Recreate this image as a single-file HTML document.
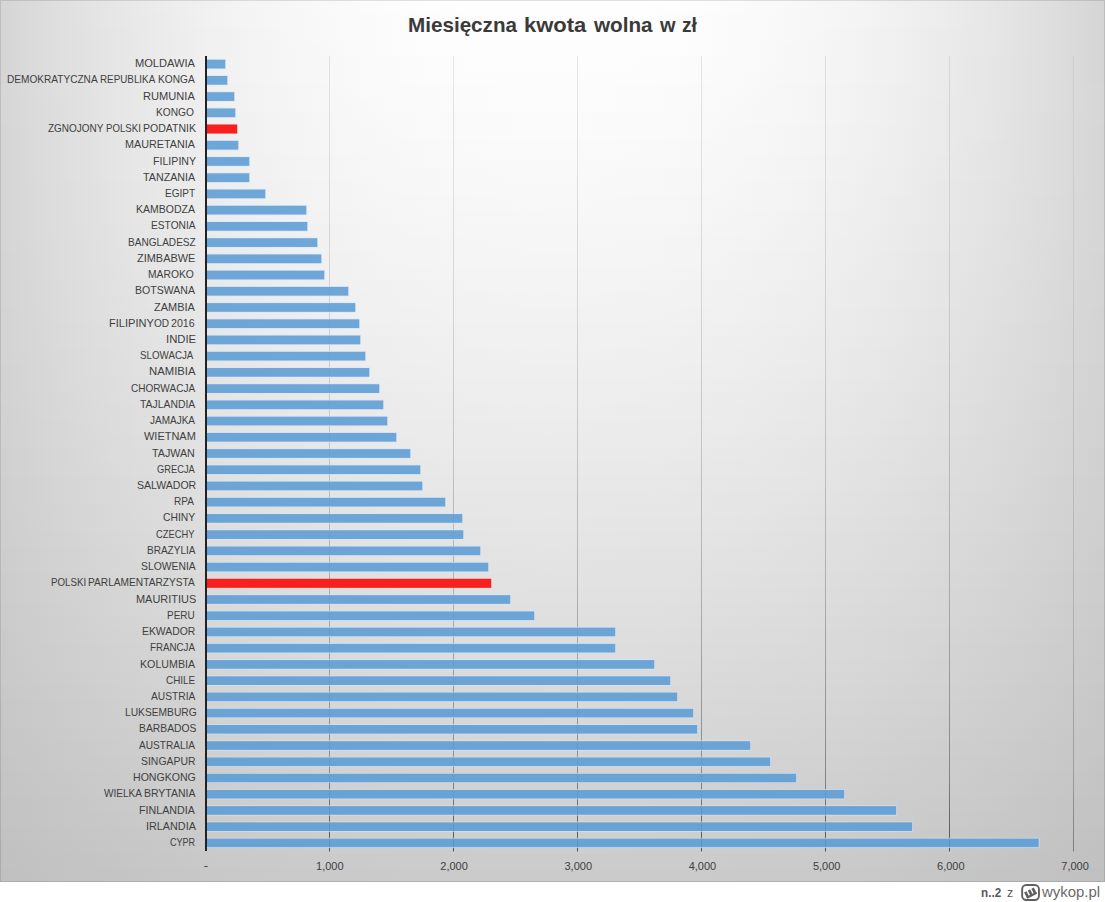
<!DOCTYPE html>
<html><head><meta charset="utf-8"><title>Miesięczna kwota wolna w zł</title>
<style>
html,body{margin:0;padding:0;background:#fff;}
body{width:1105px;height:902px;position:relative;overflow:hidden;font-family:"Liberation Sans",sans-serif;}
#chart{position:absolute;left:0;top:0;width:1105px;height:882px;background:#e0e0e0;}
#chart i{position:absolute;left:0;width:1105px;display:block;}
#frame{position:absolute;left:0;top:0;width:1105px;height:882px;box-sizing:border-box;border:1px solid rgba(0,0,0,0.11);}
svg{position:absolute;left:0;top:0;}
.t{position:absolute;white-space:nowrap;line-height:1;transform-origin:0 0;}
</style></head><body>

<div id="chart"><i style="top:0px;height:14px;background:linear-gradient(90deg,#d5d5d5 0px,#dfdfdf 60px,#e6e6e6 110px,#ececec 160px,#f1f1f1 210px,#f5f5f5 260px,#f8f8f8 310px,#fbfbfb 360px,#fdfdfd 410px,#fefefe 460px,#fefefe 552px,#fefefe 644px,#fdfdfd 694px,#fbfbfb 744px,#f8f8f8 794px,#f5f5f5 844px,#f1f1f1 894px,#ececec 944px,#e6e6e6 994px,#dfdfdf 1044px,#d5d5d5 1105px)"></i><i style="top:14px;height:14px;background:linear-gradient(90deg,#d5d5d5 0px,#dfdfdf 60px,#e6e6e6 110px,#ebebeb 160px,#f1f1f1 210px,#f5f5f5 260px,#f8f8f8 310px,#fafafa 360px,#fcfcfc 410px,#fdfdfd 460px,#fefefe 552px,#fdfdfd 644px,#fcfcfc 694px,#fafafa 744px,#f8f8f8 794px,#f5f5f5 844px,#f1f1f1 894px,#ececec 944px,#e6e6e6 994px,#dfdfdf 1044px,#d5d5d5 1105px)"></i><i style="top:28px;height:14px;background:linear-gradient(90deg,#d5d5d5 0px,#dfdfdf 60px,#e5e5e5 110px,#ebebeb 160px,#f0f0f0 210px,#f4f4f4 260px,#f8f8f8 310px,#fafafa 360px,#fcfcfc 410px,#fdfdfd 460px,#fefefe 552px,#fdfdfd 644px,#fcfcfc 694px,#fafafa 744px,#f8f8f8 794px,#f4f4f4 844px,#f0f0f0 894px,#ebebeb 944px,#e6e6e6 994px,#dfdfdf 1044px,#d5d5d5 1105px)"></i><i style="top:42px;height:14px;background:linear-gradient(90deg,#d5d5d5 0px,#dfdfdf 60px,#e5e5e5 110px,#ebebeb 160px,#f0f0f0 210px,#f4f4f4 260px,#f7f7f7 310px,#fafafa 360px,#fcfcfc 410px,#fdfdfd 460px,#fdfdfd 552px,#fdfdfd 644px,#fcfcfc 694px,#fafafa 744px,#f7f7f7 794px,#f4f4f4 844px,#f0f0f0 894px,#ebebeb 944px,#e6e6e6 994px,#dfdfdf 1044px,#d5d5d5 1105px)"></i><i style="top:56px;height:14px;background:linear-gradient(90deg,#d5d5d5 0px,#dfdfdf 60px,#e5e5e5 110px,#ebebeb 160px,#f0f0f0 210px,#f4f4f4 260px,#f7f7f7 310px,#f9f9f9 360px,#fbfbfb 410px,#fcfcfc 460px,#fdfdfd 552px,#fcfcfc 644px,#fbfbfb 694px,#fafafa 744px,#f7f7f7 794px,#f4f4f4 844px,#f0f0f0 894px,#ebebeb 944px,#e5e5e5 994px,#dfdfdf 1044px,#d5d5d5 1105px)"></i><i style="top:70px;height:14px;background:linear-gradient(90deg,#d5d5d5 0px,#dfdfdf 60px,#e5e5e5 110px,#ebebeb 160px,#f0f0f0 210px,#f4f4f4 260px,#f7f7f7 310px,#f9f9f9 360px,#fbfbfb 410px,#fcfcfc 460px,#fcfcfc 552px,#fcfcfc 644px,#fbfbfb 694px,#f9f9f9 744px,#f7f7f7 794px,#f4f4f4 844px,#f0f0f0 894px,#ebebeb 944px,#e5e5e5 994px,#dfdfdf 1044px,#d5d5d5 1105px)"></i><i style="top:84px;height:14px;background:linear-gradient(90deg,#d6d6d6 0px,#dfdfdf 60px,#e5e5e5 110px,#ebebeb 160px,#efefef 210px,#f3f3f3 260px,#f6f6f6 310px,#f9f9f9 360px,#fafafa 410px,#fbfbfb 460px,#fcfcfc 552px,#fbfbfb 644px,#fafafa 694px,#f9f9f9 744px,#f6f6f6 794px,#f3f3f3 844px,#efefef 894px,#ebebeb 944px,#e5e5e5 994px,#dfdfdf 1044px,#d6d6d6 1105px)"></i><i style="top:98px;height:14px;background:linear-gradient(90deg,#d6d6d6 0px,#dedede 60px,#e5e5e5 110px,#eaeaea 160px,#efefef 210px,#f3f3f3 260px,#f6f6f6 310px,#f8f8f8 360px,#fafafa 410px,#fbfbfb 460px,#fcfcfc 552px,#fbfbfb 644px,#fafafa 694px,#f8f8f8 744px,#f6f6f6 794px,#f3f3f3 844px,#efefef 894px,#eaeaea 944px,#e5e5e5 994px,#dfdfdf 1044px,#d6d6d6 1105px)"></i><i style="top:112px;height:14px;background:linear-gradient(90deg,#d6d6d6 0px,#dedede 60px,#e5e5e5 110px,#eaeaea 160px,#efefef 210px,#f2f2f2 260px,#f5f5f5 310px,#f8f8f8 360px,#f9f9f9 410px,#fafafa 460px,#fbfbfb 552px,#fafafa 644px,#f9f9f9 694px,#f8f8f8 744px,#f6f6f6 794px,#f3f3f3 844px,#efefef 894px,#eaeaea 944px,#e5e5e5 994px,#dedede 1044px,#d6d6d6 1105px)"></i><i style="top:126px;height:14px;background:linear-gradient(90deg,#d5d5d5 0px,#dedede 60px,#e4e4e4 110px,#eaeaea 160px,#eeeeee 210px,#f2f2f2 260px,#f5f5f5 310px,#f7f7f7 360px,#f9f9f9 410px,#fafafa 460px,#fbfbfb 552px,#fafafa 644px,#f9f9f9 694px,#f7f7f7 744px,#f5f5f5 794px,#f2f2f2 844px,#eeeeee 894px,#eaeaea 944px,#e5e5e5 994px,#dedede 1044px,#d5d5d5 1105px)"></i><i style="top:140px;height:14px;background:linear-gradient(90deg,#d5d5d5 0px,#dedede 60px,#e4e4e4 110px,#e9e9e9 160px,#eeeeee 210px,#f2f2f2 260px,#f5f5f5 310px,#f7f7f7 360px,#f8f8f8 410px,#f9f9f9 460px,#fafafa 552px,#f9f9f9 644px,#f8f8f8 694px,#f7f7f7 744px,#f5f5f5 794px,#f2f2f2 844px,#eeeeee 894px,#eaeaea 944px,#e4e4e4 994px,#dedede 1044px,#d5d5d5 1105px)"></i><i style="top:154px;height:14px;background:linear-gradient(90deg,#d5d5d5 0px,#dedede 60px,#e4e4e4 110px,#e9e9e9 160px,#eeeeee 210px,#f1f1f1 260px,#f4f4f4 310px,#f6f6f6 360px,#f8f8f8 410px,#f9f9f9 460px,#f9f9f9 552px,#f9f9f9 644px,#f8f8f8 694px,#f6f6f6 744px,#f4f4f4 794px,#f1f1f1 844px,#eeeeee 894px,#e9e9e9 944px,#e4e4e4 994px,#dedede 1044px,#d5d5d5 1105px)"></i><i style="top:168px;height:14px;background:linear-gradient(90deg,#d5d5d5 0px,#dedede 60px,#e4e4e4 110px,#e9e9e9 160px,#ededed 210px,#f1f1f1 260px,#f4f4f4 310px,#f6f6f6 360px,#f7f7f7 410px,#f8f8f8 460px,#f9f9f9 552px,#f8f8f8 644px,#f7f7f7 694px,#f6f6f6 744px,#f4f4f4 794px,#f1f1f1 844px,#ededed 894px,#e9e9e9 944px,#e4e4e4 994px,#dedede 1044px,#d5d5d5 1105px)"></i><i style="top:182px;height:14px;background:linear-gradient(90deg,#d5d5d5 0px,#dddddd 60px,#e3e3e3 110px,#e8e8e8 160px,#ededed 210px,#f0f0f0 260px,#f3f3f3 310px,#f5f5f5 360px,#f7f7f7 410px,#f8f8f8 460px,#f8f8f8 552px,#f8f8f8 644px,#f7f7f7 694px,#f5f5f5 744px,#f3f3f3 794px,#f0f0f0 844px,#ededed 894px,#e8e8e8 944px,#e3e3e3 994px,#dedede 1044px,#d5d5d5 1105px)"></i><i style="top:196px;height:14px;background:linear-gradient(90deg,#d5d5d5 0px,#dddddd 60px,#e3e3e3 110px,#e8e8e8 160px,#ececec 210px,#f0f0f0 260px,#f3f3f3 310px,#f5f5f5 360px,#f6f6f6 410px,#f7f7f7 460px,#f8f8f8 552px,#f7f7f7 644px,#f6f6f6 694px,#f5f5f5 744px,#f3f3f3 794px,#f0f0f0 844px,#ececec 894px,#e8e8e8 944px,#e3e3e3 994px,#dddddd 1044px,#d5d5d5 1105px)"></i><i style="top:210px;height:14px;background:linear-gradient(90deg,#d5d5d5 0px,#dddddd 60px,#e3e3e3 110px,#e8e8e8 160px,#ececec 210px,#efefef 260px,#f2f2f2 310px,#f4f4f4 360px,#f6f6f6 410px,#f6f6f6 460px,#f7f7f7 552px,#f7f7f7 644px,#f6f6f6 694px,#f4f4f4 744px,#f2f2f2 794px,#efefef 844px,#ececec 894px,#e8e8e8 944px,#e3e3e3 994px,#dddddd 1044px,#d5d5d5 1105px)"></i><i style="top:224px;height:14px;background:linear-gradient(90deg,#d5d5d5 0px,#dddddd 60px,#e2e2e2 110px,#e7e7e7 160px,#ebebeb 210px,#efefef 260px,#f1f1f1 310px,#f3f3f3 360px,#f5f5f5 410px,#f6f6f6 460px,#f6f6f6 552px,#f6f6f6 644px,#f5f5f5 694px,#f4f4f4 744px,#f1f1f1 794px,#efefef 844px,#ebebeb 894px,#e7e7e7 944px,#e2e2e2 994px,#dddddd 1044px,#d5d5d5 1105px)"></i><i style="top:238px;height:14px;background:linear-gradient(90deg,#d5d5d5 0px,#dcdcdc 60px,#e2e2e2 110px,#e7e7e7 160px,#ebebeb 210px,#eeeeee 260px,#f1f1f1 310px,#f3f3f3 360px,#f4f4f4 410px,#f5f5f5 460px,#f6f6f6 552px,#f5f5f5 644px,#f4f4f4 694px,#f3f3f3 744px,#f1f1f1 794px,#eeeeee 844px,#ebebeb 894px,#e7e7e7 944px,#e2e2e2 994px,#dcdcdc 1044px,#d5d5d5 1105px)"></i><i style="top:252px;height:14px;background:linear-gradient(90deg,#d4d4d4 0px,#dcdcdc 60px,#e2e2e2 110px,#e6e6e6 160px,#eaeaea 210px,#eeeeee 260px,#f0f0f0 310px,#f2f2f2 360px,#f4f4f4 410px,#f5f5f5 460px,#f5f5f5 552px,#f5f5f5 644px,#f4f4f4 694px,#f2f2f2 744px,#f0f0f0 794px,#eeeeee 844px,#eaeaea 894px,#e6e6e6 944px,#e2e2e2 994px,#dcdcdc 1044px,#d4d4d4 1105px)"></i><i style="top:266px;height:14px;background:linear-gradient(90deg,#d4d4d4 0px,#dcdcdc 60px,#e1e1e1 110px,#e6e6e6 160px,#eaeaea 210px,#ededed 260px,#f0f0f0 310px,#f2f2f2 360px,#f3f3f3 410px,#f4f4f4 460px,#f4f4f4 552px,#f4f4f4 644px,#f3f3f3 694px,#f2f2f2 744px,#f0f0f0 794px,#ededed 844px,#eaeaea 894px,#e6e6e6 944px,#e1e1e1 994px,#dcdcdc 1044px,#d4d4d4 1105px)"></i><i style="top:280px;height:14px;background:linear-gradient(90deg,#d4d4d4 0px,#dbdbdb 60px,#e1e1e1 110px,#e5e5e5 160px,#e9e9e9 210px,#ececec 260px,#efefef 310px,#f1f1f1 360px,#f2f2f2 410px,#f3f3f3 460px,#f4f4f4 552px,#f3f3f3 644px,#f2f2f2 694px,#f1f1f1 744px,#efefef 794px,#ececec 844px,#e9e9e9 894px,#e5e5e5 944px,#e1e1e1 994px,#dbdbdb 1044px,#d4d4d4 1105px)"></i><i style="top:294px;height:14px;background:linear-gradient(90deg,#d4d4d4 0px,#dbdbdb 60px,#e0e0e0 110px,#e5e5e5 160px,#e9e9e9 210px,#ececec 260px,#eeeeee 310px,#f0f0f0 360px,#f2f2f2 410px,#f2f2f2 460px,#f3f3f3 552px,#f2f2f2 644px,#f2f2f2 694px,#f0f0f0 744px,#eeeeee 794px,#ececec 844px,#e9e9e9 894px,#e5e5e5 944px,#e0e0e0 994px,#dbdbdb 1044px,#d4d4d4 1105px)"></i><i style="top:308px;height:14px;background:linear-gradient(90deg,#d3d3d3 0px,#dbdbdb 60px,#e0e0e0 110px,#e4e4e4 160px,#e8e8e8 210px,#ebebeb 260px,#eeeeee 310px,#f0f0f0 360px,#f1f1f1 410px,#f2f2f2 460px,#f2f2f2 552px,#f2f2f2 644px,#f1f1f1 694px,#f0f0f0 744px,#eeeeee 794px,#ebebeb 844px,#e8e8e8 894px,#e4e4e4 944px,#e0e0e0 994px,#dbdbdb 1044px,#d3d3d3 1105px)"></i><i style="top:322px;height:14px;background:linear-gradient(90deg,#d3d3d3 0px,#dadada 60px,#dfdfdf 110px,#e4e4e4 160px,#e7e7e7 210px,#ebebeb 260px,#ededed 310px,#efefef 360px,#f0f0f0 410px,#f1f1f1 460px,#f1f1f1 552px,#f1f1f1 644px,#f0f0f0 694px,#efefef 744px,#ededed 794px,#ebebeb 844px,#e8e8e8 894px,#e4e4e4 944px,#dfdfdf 994px,#dadada 1044px,#d3d3d3 1105px)"></i><i style="top:336px;height:14px;background:linear-gradient(90deg,#d3d3d3 0px,#dadada 60px,#dfdfdf 110px,#e3e3e3 160px,#e7e7e7 210px,#eaeaea 260px,#ececec 310px,#eeeeee 360px,#efefef 410px,#f0f0f0 460px,#f1f1f1 552px,#f0f0f0 644px,#efefef 694px,#eeeeee 744px,#ececec 794px,#eaeaea 844px,#e7e7e7 894px,#e3e3e3 944px,#dfdfdf 994px,#dadada 1044px,#d3d3d3 1105px)"></i><i style="top:350px;height:14px;background:linear-gradient(90deg,#d3d3d3 0px,#d9d9d9 60px,#dedede 110px,#e3e3e3 160px,#e6e6e6 210px,#e9e9e9 260px,#ececec 310px,#ededed 360px,#efefef 410px,#efefef 460px,#f0f0f0 552px,#efefef 644px,#efefef 694px,#ededed 744px,#ececec 794px,#e9e9e9 844px,#e6e6e6 894px,#e3e3e3 944px,#dedede 994px,#dadada 1044px,#d3d3d3 1105px)"></i><i style="top:364px;height:14px;background:linear-gradient(90deg,#d2d2d2 0px,#d9d9d9 60px,#dedede 110px,#e2e2e2 160px,#e6e6e6 210px,#e9e9e9 260px,#ebebeb 310px,#ededed 360px,#eeeeee 410px,#efefef 460px,#efefef 552px,#efefef 644px,#eeeeee 694px,#ededed 744px,#ebebeb 794px,#e9e9e9 844px,#e6e6e6 894px,#e2e2e2 944px,#dedede 994px,#d9d9d9 1044px,#d2d2d2 1105px)"></i><i style="top:378px;height:14px;background:linear-gradient(90deg,#d2d2d2 0px,#d9d9d9 60px,#dddddd 110px,#e2e2e2 160px,#e5e5e5 210px,#e8e8e8 260px,#eaeaea 310px,#ececec 360px,#ededed 410px,#eeeeee 460px,#eeeeee 552px,#eeeeee 644px,#ededed 694px,#ececec 744px,#eaeaea 794px,#e8e8e8 844px,#e5e5e5 894px,#e2e2e2 944px,#dddddd 994px,#d9d9d9 1044px,#d2d2d2 1105px)"></i><i style="top:392px;height:14px;background:linear-gradient(90deg,#d2d2d2 0px,#d8d8d8 60px,#dddddd 110px,#e1e1e1 160px,#e4e4e4 210px,#e7e7e7 260px,#e9e9e9 310px,#ebebeb 360px,#ececec 410px,#ededed 460px,#eeeeee 552px,#ededed 644px,#ececec 694px,#ebebeb 744px,#e9e9e9 794px,#e7e7e7 844px,#e4e4e4 894px,#e1e1e1 944px,#dddddd 994px,#d8d8d8 1044px,#d2d2d2 1105px)"></i><i style="top:406px;height:14px;background:linear-gradient(90deg,#d1d1d1 0px,#d8d8d8 60px,#dcdcdc 110px,#e0e0e0 160px,#e4e4e4 210px,#e6e6e6 260px,#e9e9e9 310px,#eaeaea 360px,#ececec 410px,#ececec 460px,#ededed 552px,#ececec 644px,#ececec 694px,#eaeaea 744px,#e9e9e9 794px,#e6e6e6 844px,#e4e4e4 894px,#e0e0e0 944px,#dcdcdc 994px,#d8d8d8 1044px,#d1d1d1 1105px)"></i><i style="top:420px;height:14px;background:linear-gradient(90deg,#d1d1d1 0px,#d7d7d7 60px,#dcdcdc 110px,#e0e0e0 160px,#e3e3e3 210px,#e6e6e6 260px,#e8e8e8 310px,#eaeaea 360px,#ebebeb 410px,#ebebeb 460px,#ececec 552px,#ebebeb 644px,#ebebeb 694px,#eaeaea 744px,#e8e8e8 794px,#e6e6e6 844px,#e3e3e3 894px,#e0e0e0 944px,#dcdcdc 994px,#d7d7d7 1044px,#d1d1d1 1105px)"></i><i style="top:434px;height:14px;background:linear-gradient(90deg,#d1d1d1 0px,#d7d7d7 60px,#dbdbdb 110px,#dfdfdf 160px,#e2e2e2 210px,#e5e5e5 260px,#e7e7e7 310px,#e9e9e9 360px,#eaeaea 410px,#ebebeb 460px,#ebebeb 552px,#ebebeb 644px,#eaeaea 694px,#e9e9e9 744px,#e7e7e7 794px,#e5e5e5 844px,#e2e2e2 894px,#dfdfdf 944px,#dbdbdb 994px,#d7d7d7 1044px,#d1d1d1 1105px)"></i><i style="top:448px;height:14px;background:linear-gradient(90deg,#d0d0d0 0px,#d6d6d6 60px,#dbdbdb 110px,#dedede 160px,#e2e2e2 210px,#e4e4e4 260px,#e6e6e6 310px,#e8e8e8 360px,#e9e9e9 410px,#eaeaea 460px,#eaeaea 552px,#eaeaea 644px,#e9e9e9 694px,#e8e8e8 744px,#e6e6e6 794px,#e4e4e4 844px,#e2e2e2 894px,#dedede 944px,#dbdbdb 994px,#d6d6d6 1044px,#d0d0d0 1105px)"></i><i style="top:462px;height:14px;background:linear-gradient(90deg,#d0d0d0 0px,#d6d6d6 60px,#dadada 110px,#dedede 160px,#e1e1e1 210px,#e3e3e3 260px,#e5e5e5 310px,#e7e7e7 360px,#e8e8e8 410px,#e9e9e9 460px,#e9e9e9 552px,#e9e9e9 644px,#e8e8e8 694px,#e7e7e7 744px,#e6e6e6 794px,#e3e3e3 844px,#e1e1e1 894px,#dedede 944px,#dadada 994px,#d6d6d6 1044px,#d0d0d0 1105px)"></i><i style="top:476px;height:14px;background:linear-gradient(90deg,#cfcfcf 0px,#d5d5d5 60px,#d9d9d9 110px,#dddddd 160px,#e0e0e0 210px,#e3e3e3 260px,#e5e5e5 310px,#e6e6e6 360px,#e7e7e7 410px,#e8e8e8 460px,#e8e8e8 552px,#e8e8e8 644px,#e7e7e7 694px,#e6e6e6 744px,#e5e5e5 794px,#e3e3e3 844px,#e0e0e0 894px,#dddddd 944px,#dadada 994px,#d5d5d5 1044px,#cfcfcf 1105px)"></i><i style="top:490px;height:14px;background:linear-gradient(90deg,#cfcfcf 0px,#d5d5d5 60px,#d9d9d9 110px,#dcdcdc 160px,#dfdfdf 210px,#e2e2e2 260px,#e4e4e4 310px,#e5e5e5 360px,#e6e6e6 410px,#e7e7e7 460px,#e7e7e7 552px,#e7e7e7 644px,#e6e6e6 694px,#e5e5e5 744px,#e4e4e4 794px,#e2e2e2 844px,#dfdfdf 894px,#dcdcdc 944px,#d9d9d9 994px,#d5d5d5 1044px,#cfcfcf 1105px)"></i><i style="top:504px;height:14px;background:linear-gradient(90deg,#cfcfcf 0px,#d4d4d4 60px,#d8d8d8 110px,#dcdcdc 160px,#dfdfdf 210px,#e1e1e1 260px,#e3e3e3 310px,#e4e4e4 360px,#e6e6e6 410px,#e6e6e6 460px,#e7e7e7 552px,#e6e6e6 644px,#e6e6e6 694px,#e5e5e5 744px,#e3e3e3 794px,#e1e1e1 844px,#dfdfdf 894px,#dcdcdc 944px,#d8d8d8 994px,#d4d4d4 1044px,#cfcfcf 1105px)"></i><i style="top:518px;height:14px;background:linear-gradient(90deg,#cecece 0px,#d4d4d4 60px,#d8d8d8 110px,#dbdbdb 160px,#dedede 210px,#e0e0e0 260px,#e2e2e2 310px,#e4e4e4 360px,#e5e5e5 410px,#e5e5e5 460px,#e6e6e6 552px,#e5e5e5 644px,#e5e5e5 694px,#e4e4e4 744px,#e2e2e2 794px,#e0e0e0 844px,#dedede 894px,#dbdbdb 944px,#d8d8d8 994px,#d4d4d4 1044px,#cecece 1105px)"></i><i style="top:532px;height:14px;background:linear-gradient(90deg,#cecece 0px,#d3d3d3 60px,#d7d7d7 110px,#dadada 160px,#dddddd 210px,#dfdfdf 260px,#e1e1e1 310px,#e3e3e3 360px,#e4e4e4 410px,#e4e4e4 460px,#e5e5e5 552px,#e4e4e4 644px,#e4e4e4 694px,#e3e3e3 744px,#e1e1e1 794px,#dfdfdf 844px,#dddddd 894px,#dadada 944px,#d7d7d7 994px,#d3d3d3 1044px,#cecece 1105px)"></i><i style="top:546px;height:14px;background:linear-gradient(90deg,#cdcdcd 0px,#d2d2d2 60px,#d6d6d6 110px,#dadada 160px,#dcdcdc 210px,#dfdfdf 260px,#e0e0e0 310px,#e2e2e2 360px,#e3e3e3 410px,#e3e3e3 460px,#e4e4e4 552px,#e3e3e3 644px,#e3e3e3 694px,#e2e2e2 744px,#e0e0e0 794px,#dfdfdf 844px,#dcdcdc 894px,#dadada 944px,#d6d6d6 994px,#d3d3d3 1044px,#cdcdcd 1105px)"></i><i style="top:560px;height:14px;background:linear-gradient(90deg,#cdcdcd 0px,#d2d2d2 60px,#d6d6d6 110px,#d9d9d9 160px,#dcdcdc 210px,#dedede 260px,#e0e0e0 310px,#e1e1e1 360px,#e2e2e2 410px,#e2e2e2 460px,#e3e3e3 552px,#e2e2e2 644px,#e2e2e2 694px,#e1e1e1 744px,#e0e0e0 794px,#dedede 844px,#dcdcdc 894px,#d9d9d9 944px,#d6d6d6 994px,#d2d2d2 1044px,#cdcdcd 1105px)"></i><i style="top:574px;height:14px;background:linear-gradient(90deg,#cccccc 0px,#d1d1d1 60px,#d5d5d5 110px,#d8d8d8 160px,#dbdbdb 210px,#dddddd 260px,#dfdfdf 310px,#e0e0e0 360px,#e1e1e1 410px,#e1e1e1 460px,#e2e2e2 552px,#e2e2e2 644px,#e1e1e1 694px,#e0e0e0 744px,#dfdfdf 794px,#dddddd 844px,#dbdbdb 894px,#d8d8d8 944px,#d5d5d5 994px,#d1d1d1 1044px,#cccccc 1105px)"></i><i style="top:588px;height:14px;background:linear-gradient(90deg,#cccccc 0px,#d1d1d1 60px,#d4d4d4 110px,#d7d7d7 160px,#dadada 210px,#dcdcdc 260px,#dedede 310px,#dfdfdf 360px,#e0e0e0 410px,#e1e1e1 460px,#e1e1e1 552px,#e1e1e1 644px,#e0e0e0 694px,#dfdfdf 744px,#dedede 794px,#dcdcdc 844px,#dadada 894px,#d7d7d7 944px,#d4d4d4 994px,#d1d1d1 1044px,#cccccc 1105px)"></i><i style="top:602px;height:14px;background:linear-gradient(90deg,#cbcbcb 0px,#d0d0d0 60px,#d4d4d4 110px,#d7d7d7 160px,#d9d9d9 210px,#dbdbdb 260px,#dddddd 310px,#dedede 360px,#dfdfdf 410px,#e0e0e0 460px,#e0e0e0 552px,#e0e0e0 644px,#dfdfdf 694px,#dedede 744px,#dddddd 794px,#dbdbdb 844px,#d9d9d9 894px,#d7d7d7 944px,#d4d4d4 994px,#d0d0d0 1044px,#cbcbcb 1105px)"></i><i style="top:616px;height:14px;background:linear-gradient(90deg,#cbcbcb 0px,#cfcfcf 60px,#d3d3d3 110px,#d6d6d6 160px,#d8d8d8 210px,#dadada 260px,#dcdcdc 310px,#dddddd 360px,#dedede 410px,#dfdfdf 460px,#dfdfdf 552px,#dfdfdf 644px,#dedede 694px,#dddddd 744px,#dcdcdc 794px,#dadada 844px,#d8d8d8 894px,#d6d6d6 944px,#d3d3d3 994px,#d0d0d0 1044px,#cbcbcb 1105px)"></i><i style="top:630px;height:14px;background:linear-gradient(90deg,#cacaca 0px,#cfcfcf 60px,#d2d2d2 110px,#d5d5d5 160px,#d7d7d7 210px,#d9d9d9 260px,#dbdbdb 310px,#dcdcdc 360px,#dddddd 410px,#dedede 460px,#dedede 552px,#dedede 644px,#dddddd 694px,#dcdcdc 744px,#dbdbdb 794px,#d9d9d9 844px,#d7d7d7 894px,#d5d5d5 944px,#d2d2d2 994px,#cfcfcf 1044px,#cacaca 1105px)"></i><i style="top:644px;height:14px;background:linear-gradient(90deg,#cacaca 0px,#cecece 60px,#d1d1d1 110px,#d4d4d4 160px,#d7d7d7 210px,#d8d8d8 260px,#dadada 310px,#dbdbdb 360px,#dcdcdc 410px,#dddddd 460px,#dddddd 552px,#dddddd 644px,#dcdcdc 694px,#dbdbdb 744px,#dadada 794px,#d9d9d9 844px,#d7d7d7 894px,#d4d4d4 944px,#d1d1d1 994px,#cecece 1044px,#cacaca 1105px)"></i><i style="top:658px;height:14px;background:linear-gradient(90deg,#c9c9c9 0px,#cecece 60px,#d1d1d1 110px,#d3d3d3 160px,#d6d6d6 210px,#d8d8d8 260px,#d9d9d9 310px,#dadada 360px,#dbdbdb 410px,#dcdcdc 460px,#dcdcdc 552px,#dcdcdc 644px,#dbdbdb 694px,#dadada 744px,#d9d9d9 794px,#d8d8d8 844px,#d6d6d6 894px,#d3d3d3 944px,#d1d1d1 994px,#cecece 1044px,#c9c9c9 1105px)"></i><i style="top:672px;height:14px;background:linear-gradient(90deg,#c9c9c9 0px,#cdcdcd 60px,#d0d0d0 110px,#d3d3d3 160px,#d5d5d5 210px,#d7d7d7 260px,#d8d8d8 310px,#d9d9d9 360px,#dadada 410px,#dadada 460px,#dbdbdb 552px,#dbdbdb 644px,#dadada 694px,#d9d9d9 744px,#d8d8d8 794px,#d7d7d7 844px,#d5d5d5 894px,#d3d3d3 944px,#d0d0d0 994px,#cdcdcd 1044px,#c9c9c9 1105px)"></i><i style="top:686px;height:14px;background:linear-gradient(90deg,#c8c8c8 0px,#cccccc 60px,#cfcfcf 110px,#d2d2d2 160px,#d4d4d4 210px,#d6d6d6 260px,#d7d7d7 310px,#d8d8d8 360px,#d9d9d9 410px,#d9d9d9 460px,#dadada 552px,#d9d9d9 644px,#d9d9d9 694px,#d8d8d8 744px,#d7d7d7 794px,#d6d6d6 844px,#d4d4d4 894px,#d2d2d2 944px,#cfcfcf 994px,#cccccc 1044px,#c8c8c8 1105px)"></i><i style="top:700px;height:14px;background:linear-gradient(90deg,#c7c7c7 0px,#cbcbcb 60px,#cecece 110px,#d1d1d1 160px,#d3d3d3 210px,#d5d5d5 260px,#d6d6d6 310px,#d7d7d7 360px,#d8d8d8 410px,#d8d8d8 460px,#d9d9d9 552px,#d8d8d8 644px,#d8d8d8 694px,#d7d7d7 744px,#d6d6d6 794px,#d5d5d5 844px,#d3d3d3 894px,#d1d1d1 944px,#cecece 994px,#cccccc 1044px,#c7c7c7 1105px)"></i><i style="top:714px;height:14px;background:linear-gradient(90deg,#c7c7c7 0px,#cbcbcb 60px,#cecece 110px,#d0d0d0 160px,#d2d2d2 210px,#d4d4d4 260px,#d5d5d5 310px,#d6d6d6 360px,#d7d7d7 410px,#d7d7d7 460px,#d8d8d8 552px,#d7d7d7 644px,#d7d7d7 694px,#d6d6d6 744px,#d5d5d5 794px,#d4d4d4 844px,#d2d2d2 894px,#d0d0d0 944px,#cecece 994px,#cbcbcb 1044px,#c7c7c7 1105px)"></i><i style="top:728px;height:14px;background:linear-gradient(90deg,#c6c6c6 0px,#cacaca 60px,#cdcdcd 110px,#cfcfcf 160px,#d1d1d1 210px,#d3d3d3 260px,#d4d4d4 310px,#d5d5d5 360px,#d6d6d6 410px,#d6d6d6 460px,#d7d7d7 552px,#d6d6d6 644px,#d6d6d6 694px,#d5d5d5 744px,#d4d4d4 794px,#d3d3d3 844px,#d1d1d1 894px,#cfcfcf 944px,#cdcdcd 994px,#cacaca 1044px,#c6c6c6 1105px)"></i><i style="top:742px;height:14px;background:linear-gradient(90deg,#c6c6c6 0px,#c9c9c9 60px,#cccccc 110px,#cecece 160px,#d0d0d0 210px,#d2d2d2 260px,#d3d3d3 310px,#d4d4d4 360px,#d5d5d5 410px,#d5d5d5 460px,#d5d5d5 552px,#d5d5d5 644px,#d5d5d5 694px,#d4d4d4 744px,#d3d3d3 794px,#d2d2d2 844px,#d0d0d0 894px,#cecece 944px,#cccccc 994px,#c9c9c9 1044px,#c6c6c6 1105px)"></i><i style="top:756px;height:14px;background:linear-gradient(90deg,#c5c5c5 0px,#c9c9c9 60px,#cbcbcb 110px,#cdcdcd 160px,#cfcfcf 210px,#d1d1d1 260px,#d2d2d2 310px,#d3d3d3 360px,#d4d4d4 410px,#d4d4d4 460px,#d4d4d4 552px,#d4d4d4 644px,#d4d4d4 694px,#d3d3d3 744px,#d2d2d2 794px,#d1d1d1 844px,#cfcfcf 894px,#cdcdcd 944px,#cbcbcb 994px,#c9c9c9 1044px,#c5c5c5 1105px)"></i><i style="top:770px;height:14px;background:linear-gradient(90deg,#c4c4c4 0px,#c8c8c8 60px,#cacaca 110px,#cdcdcd 160px,#cecece 210px,#d0d0d0 260px,#d1d1d1 310px,#d2d2d2 360px,#d3d3d3 410px,#d3d3d3 460px,#d3d3d3 552px,#d3d3d3 644px,#d3d3d3 694px,#d2d2d2 744px,#d1d1d1 794px,#d0d0d0 844px,#cecece 894px,#cdcdcd 944px,#cacaca 994px,#c8c8c8 1044px,#c4c4c4 1105px)"></i><i style="top:784px;height:14px;background:linear-gradient(90deg,#c4c4c4 0px,#c7c7c7 60px,#cacaca 110px,#cccccc 160px,#cdcdcd 210px,#cfcfcf 260px,#d0d0d0 310px,#d1d1d1 360px,#d2d2d2 410px,#d2d2d2 460px,#d2d2d2 552px,#d2d2d2 644px,#d2d2d2 694px,#d1d1d1 744px,#d0d0d0 794px,#cfcfcf 844px,#cdcdcd 894px,#cccccc 944px,#cacaca 994px,#c7c7c7 1044px,#c4c4c4 1105px)"></i><i style="top:798px;height:14px;background:linear-gradient(90deg,#c3c3c3 0px,#c6c6c6 60px,#c9c9c9 110px,#cbcbcb 160px,#cccccc 210px,#cecece 260px,#cfcfcf 310px,#d0d0d0 360px,#d0d0d0 410px,#d1d1d1 460px,#d1d1d1 552px,#d1d1d1 644px,#d0d0d0 694px,#d0d0d0 744px,#cfcfcf 794px,#cecece 844px,#cccccc 894px,#cbcbcb 944px,#c9c9c9 994px,#c6c6c6 1044px,#c3c3c3 1105px)"></i><i style="top:812px;height:14px;background:linear-gradient(90deg,#c3c3c3 0px,#c6c6c6 60px,#c8c8c8 110px,#cacaca 160px,#cbcbcb 210px,#cdcdcd 260px,#cecece 310px,#cfcfcf 360px,#cfcfcf 410px,#d0d0d0 460px,#d0d0d0 552px,#d0d0d0 644px,#cfcfcf 694px,#cfcfcf 744px,#cecece 794px,#cdcdcd 844px,#cccccc 894px,#cacaca 944px,#c8c8c8 994px,#c6c6c6 1044px,#c3c3c3 1105px)"></i><i style="top:826px;height:14px;background:linear-gradient(90deg,#c2c2c2 0px,#c5c5c5 60px,#c7c7c7 110px,#c9c9c9 160px,#cbcbcb 210px,#cccccc 260px,#cdcdcd 310px,#cecece 360px,#cecece 410px,#cfcfcf 460px,#cfcfcf 552px,#cfcfcf 644px,#cecece 694px,#cecece 744px,#cdcdcd 794px,#cccccc 844px,#cbcbcb 894px,#c9c9c9 944px,#c7c7c7 994px,#c5c5c5 1044px,#c2c2c2 1105px)"></i><i style="top:840px;height:14px;background:linear-gradient(90deg,#c1c1c1 0px,#c4c4c4 60px,#c6c6c6 110px,#c8c8c8 160px,#cacaca 210px,#cbcbcb 260px,#cccccc 310px,#cdcdcd 360px,#cdcdcd 410px,#cdcdcd 460px,#cecece 552px,#cdcdcd 644px,#cdcdcd 694px,#cdcdcd 744px,#cccccc 794px,#cbcbcb 844px,#cacaca 894px,#c8c8c8 944px,#c6c6c6 994px,#c4c4c4 1044px,#c1c1c1 1105px)"></i><i style="top:854px;height:14px;background:linear-gradient(90deg,#c1c1c1 0px,#c3c3c3 60px,#c5c5c5 110px,#c7c7c7 160px,#c9c9c9 210px,#cacaca 260px,#cbcbcb 310px,#cbcbcb 360px,#cccccc 410px,#cccccc 460px,#cccccc 552px,#cccccc 644px,#cccccc 694px,#cbcbcb 744px,#cbcbcb 794px,#cacaca 844px,#c9c9c9 894px,#c7c7c7 944px,#c5c5c5 994px,#c3c3c3 1044px,#c1c1c1 1105px)"></i><i style="top:868px;height:14px;background:linear-gradient(90deg,#c0c0c0 0px,#c3c3c3 60px,#c4c4c4 110px,#c6c6c6 160px,#c8c8c8 210px,#c9c9c9 260px,#cacaca 310px,#cacaca 360px,#cbcbcb 410px,#cbcbcb 460px,#cbcbcb 552px,#cbcbcb 644px,#cbcbcb 694px,#cacaca 744px,#cacaca 794px,#c9c9c9 844px,#c8c8c8 894px,#c6c6c6 944px,#c4c4c4 994px,#c3c3c3 1044px,#c0c0c0 1105px)"></i></div><div id="frame"></div>
<svg width="1105" height="882" viewBox="0 0 1105 882">
<defs><linearGradient id="gl" x1="0" y1="0" x2="0" y2="1"><stop offset="0" stop-color="#000" stop-opacity="0.09"/><stop offset="0.22" stop-color="#000" stop-opacity="0.11"/><stop offset="0.45" stop-color="#000" stop-opacity="0.15"/><stop offset="0.67" stop-color="#000" stop-opacity="0.22"/><stop offset="0.9" stop-color="#000" stop-opacity="0.35"/><stop offset="1" stop-color="#000" stop-opacity="0.6"/></linearGradient></defs>
<rect x="329.00" y="56.00" width="1" height="795.50" fill="url(#gl)"/>
<rect x="453.00" y="56.00" width="1" height="795.50" fill="url(#gl)"/>
<rect x="577.00" y="56.00" width="1" height="795.50" fill="url(#gl)"/>
<rect x="701.00" y="56.00" width="1" height="795.50" fill="url(#gl)"/>
<rect x="825.00" y="56.00" width="1" height="795.50" fill="url(#gl)"/>
<rect x="949.00" y="56.00" width="1" height="795.50" fill="url(#gl)"/>
<rect x="1073.00" y="56.00" width="1" height="795.50" fill="url(#gl)" opacity="0.6"/>
<g paint-order="stroke" fill="#5b9bd5" fill-opacity="0.87" stroke="#d2e5f8" stroke-opacity="0.85" stroke-width="1.4"><rect x="206.00" y="59.76" width="19.25" height="8.70"/>
<rect x="206.00" y="75.99" width="21.25" height="8.70"/>
<rect x="206.00" y="92.21" width="28.25" height="8.70"/>
<rect x="206.00" y="108.44" width="29.25" height="8.70"/>
<rect x="206.00" y="140.88" width="32.25" height="8.70"/>
<rect x="206.00" y="157.11" width="43.25" height="8.70"/>
<rect x="206.00" y="173.33" width="43.25" height="8.70"/>
<rect x="206.00" y="189.56" width="59.25" height="8.70"/>
<rect x="206.00" y="205.78" width="100.25" height="8.70"/>
<rect x="206.00" y="222.01" width="101.25" height="8.70"/>
<rect x="206.00" y="238.23" width="111.25" height="8.70"/>
<rect x="206.00" y="254.46" width="115.25" height="8.70"/>
<rect x="206.00" y="270.68" width="118.25" height="8.70"/>
<rect x="206.00" y="286.91" width="142.25" height="8.70"/>
<rect x="206.00" y="303.13" width="149.25" height="8.70"/>
<rect x="206.00" y="319.35" width="153.25" height="8.70"/>
<rect x="206.00" y="335.58" width="154.25" height="8.70"/>
<rect x="206.00" y="351.80" width="159.25" height="8.70"/>
<rect x="206.00" y="368.03" width="163.25" height="8.70"/>
<rect x="206.00" y="384.25" width="173.25" height="8.70"/>
<rect x="206.00" y="400.48" width="177.25" height="8.70"/>
<rect x="206.00" y="416.70" width="181.25" height="8.70"/>
<rect x="206.00" y="432.93" width="190.25" height="8.70"/>
<rect x="206.00" y="449.15" width="204.25" height="8.70"/>
<rect x="206.00" y="465.37" width="214.25" height="8.70"/>
<rect x="206.00" y="481.60" width="216.25" height="8.70"/>
<rect x="206.00" y="497.82" width="239.25" height="8.70"/>
<rect x="206.00" y="514.05" width="256.25" height="8.70"/>
<rect x="206.00" y="530.27" width="257.25" height="8.70"/>
<rect x="206.00" y="546.50" width="274.25" height="8.70"/>
<rect x="206.00" y="562.72" width="282.25" height="8.70"/>
<rect x="206.00" y="595.17" width="304.25" height="8.70"/>
<rect x="206.00" y="611.39" width="328.25" height="8.70"/>
<rect x="206.00" y="627.62" width="409.25" height="8.70"/>
<rect x="206.00" y="643.84" width="409.25" height="8.70"/>
<rect x="206.00" y="660.07" width="448.25" height="8.70"/>
<rect x="206.00" y="676.29" width="464.25" height="8.70"/>
<rect x="206.00" y="692.52" width="471.25" height="8.70"/>
<rect x="206.00" y="708.74" width="487.25" height="8.70"/>
<rect x="206.00" y="724.97" width="491.25" height="8.70"/>
<rect x="206.00" y="741.19" width="544.25" height="8.70"/>
<rect x="206.00" y="757.42" width="564.25" height="8.70"/>
<rect x="206.00" y="773.64" width="590.25" height="8.70"/>
<rect x="206.00" y="789.86" width="638.25" height="8.70"/>
<rect x="206.00" y="806.09" width="690.25" height="8.70"/>
<rect x="206.00" y="822.31" width="706.25" height="8.70"/>
<rect x="206.00" y="838.54" width="832.75" height="8.70"/></g>
<rect x="206.00" y="124.46" width="31.25" height="9.10" fill="#f7201e"/><rect x="206.00" y="578.75" width="285.25" height="9.10" fill="#f7201e"/>
<rect x="205" y="56" width="2" height="795" fill="#222"/>
<rect x="204.3" y="866" width="3.3" height="1" fill="#4a4a4a"/>
</svg>
<div class="t" style="left:134.79px;top:57.50px;font-size:11.0px;color:#404040;transform:scaleX(1.0086);">MOLDAWIA</div>
<div class="t" style="left:7.07px;top:73.50px;font-size:11.0px;color:#404040;transform:scaleX(0.9171);">DEMOKRATYCZNA</div>
<div class="t" style="left:100.30px;top:73.50px;font-size:11.0px;color:#404040;transform:scaleX(0.8939);">REPUBLIKA</div>
<div class="t" style="left:157.97px;top:73.50px;font-size:11.0px;color:#404040;transform:scaleX(0.9242);">KONGA</div>
<div class="t" style="left:142.99px;top:90.50px;font-size:11.0px;color:#404040;transform:scaleX(1.0090);">RUMUNIA</div>
<div class="t" style="left:155.76px;top:106.50px;font-size:11.0px;color:#404040;transform:scaleX(0.9281);">KONGO</div>
<div class="t" style="left:48.13px;top:122.50px;font-size:11.0px;color:#404040;transform:scaleX(0.9080);">ZGNOJONY</div>
<div class="t" style="left:106.11px;top:122.50px;font-size:11.0px;color:#404040;transform:scaleX(0.8775);">POLSKI</div>
<div class="t" style="left:142.94px;top:122.50px;font-size:11.0px;color:#404040;transform:scaleX(0.9573);">PODATNIK</div>
<div class="t" style="left:124.92px;top:138.50px;font-size:11.0px;color:#404040;transform:scaleX(0.9799);">MAURETANIA</div>
<div class="t" style="left:152.93px;top:155.50px;font-size:11.0px;color:#404040;transform:scaleX(0.9658);">FILIPINY</div>
<div class="t" style="left:143.31px;top:171.50px;font-size:11.0px;color:#404040;transform:scaleX(0.9740);">TANZANIA</div>
<div class="t" style="left:164.78px;top:187.50px;font-size:11.0px;color:#404040;transform:scaleX(0.9158);">EGIPT</div>
<div class="t" style="left:135.84px;top:203.50px;font-size:11.0px;color:#404040;transform:scaleX(0.9549);">KAMBODZA</div>
<div class="t" style="left:150.86px;top:219.50px;font-size:11.0px;color:#404040;transform:scaleX(0.9280);">ESTONIA</div>
<div class="t" style="left:128.08px;top:236.50px;font-size:11.0px;color:#404040;transform:scaleX(0.9155);">BANGLADESZ</div>
<div class="t" style="left:136.90px;top:252.50px;font-size:11.0px;color:#404040;transform:scaleX(0.9943);">ZIMBABWE</div>
<div class="t" style="left:147.96px;top:268.50px;font-size:11.0px;color:#404040;transform:scaleX(0.9371);">MAROKO</div>
<div class="t" style="left:134.84px;top:284.50px;font-size:11.0px;color:#404040;transform:scaleX(0.9586);">BOTSWANA</div>
<div class="t" style="left:153.90px;top:301.50px;font-size:11.0px;color:#404040;transform:scaleX(0.9985);">ZAMBIA</div>
<div class="t" style="left:109.10px;top:317.50px;font-size:11.0px;color:#404040;transform:scaleX(1.0049);">FILIPINY</div>
<div class="t" style="left:153.84px;top:317.50px;font-size:11.0px;color:#404040;transform:scaleX(0.9158);">OD</div>
<div class="t" style="left:171.17px;top:317.50px;font-size:11.0px;color:#404040;transform:scaleX(0.9679);">2016</div>
<div class="t" style="left:165.87px;top:333.50px;font-size:11.0px;color:#404040;transform:scaleX(1.0251);">INDIE</div>
<div class="t" style="left:139.90px;top:349.50px;font-size:11.0px;color:#404040;transform:scaleX(0.8883);">SLOWACJA</div>
<div class="t" style="left:148.97px;top:365.50px;font-size:11.0px;color:#404040;transform:scaleX(1.0283);">NAMIBIA</div>
<div class="t" style="left:130.70px;top:382.50px;font-size:11.0px;color:#404040;transform:scaleX(0.9119);">CHORWACJA</div>
<div class="t" style="left:139.51px;top:398.50px;font-size:11.0px;color:#404040;transform:scaleX(0.9453);">TAJLANDIA</div>
<div class="t" style="left:149.76px;top:414.50px;font-size:11.0px;color:#404040;transform:scaleX(0.9094);">JAMAJKA</div>
<div class="t" style="left:143.50px;top:430.50px;font-size:11.0px;color:#404040;transform:scaleX(0.9966);">WIETNAM</div>
<div class="t" style="left:152.41px;top:447.50px;font-size:11.0px;color:#404040;transform:scaleX(0.9743);">TAJWAN</div>
<div class="t" style="left:157.03px;top:463.50px;font-size:11.0px;color:#404040;transform:scaleX(0.8462);">GRECJA</div>
<div class="t" style="left:136.77px;top:479.50px;font-size:11.0px;color:#404040;transform:scaleX(0.9591);">SALWADOR</div>
<div class="t" style="left:173.88px;top:495.50px;font-size:11.0px;color:#404040;transform:scaleX(0.9085);">RPA</div>
<div class="t" style="left:162.78px;top:511.50px;font-size:11.0px;color:#404040;transform:scaleX(0.9421);">CHINY</div>
<div class="t" style="left:155.53px;top:528.50px;font-size:11.0px;color:#404040;transform:scaleX(0.8484);">CZECHY</div>
<div class="t" style="left:147.08px;top:544.50px;font-size:11.0px;color:#404040;transform:scaleX(0.9102);">BRAZYLIA</div>
<div class="t" style="left:140.78px;top:560.50px;font-size:11.0px;color:#404040;transform:scaleX(0.9422);">SLOWENIA</div>
<div class="t" style="left:51.00px;top:576.50px;font-size:11.0px;color:#404040;transform:scaleX(0.8854);">POLSKI</div>
<div class="t" style="left:87.97px;top:576.50px;font-size:11.0px;color:#404040;transform:scaleX(0.9247);">PARLAMENTARZYSTA</div>
<div class="t" style="left:135.80px;top:593.50px;font-size:11.0px;color:#404040;transform:scaleX(0.9947);">MAURITIUS</div>
<div class="t" style="left:167.48px;top:609.50px;font-size:11.0px;color:#404040;transform:scaleX(0.9057);">PERU</div>
<div class="t" style="left:141.55px;top:625.50px;font-size:11.0px;color:#404040;transform:scaleX(0.9449);">EKWADOR</div>
<div class="t" style="left:149.80px;top:641.50px;font-size:11.0px;color:#404040;transform:scaleX(0.8869);">FRANCJA</div>
<div class="t" style="left:139.73px;top:658.50px;font-size:11.0px;color:#404040;transform:scaleX(0.9685);">KOLUMBIA</div>
<div class="t" style="left:165.71px;top:674.50px;font-size:11.0px;color:#404040;transform:scaleX(0.8978);">CHILE</div>
<div class="t" style="left:151.10px;top:690.50px;font-size:11.0px;color:#404040;transform:scaleX(0.9311);">AUSTRIA</div>
<div class="t" style="left:124.56px;top:706.50px;font-size:11.0px;color:#404040;transform:scaleX(0.9308);">LUKSEMBURG</div>
<div class="t" style="left:138.55px;top:722.50px;font-size:11.0px;color:#404040;transform:scaleX(0.9390);">BARBADOS</div>
<div class="t" style="left:139.40px;top:739.50px;font-size:11.0px;color:#404040;transform:scaleX(0.9175);">AUSTRALIA</div>
<div class="t" style="left:140.77px;top:755.50px;font-size:11.0px;color:#404040;transform:scaleX(0.9485);">SINGAPUR</div>
<div class="t" style="left:132.74px;top:771.50px;font-size:11.0px;color:#404040;transform:scaleX(0.9610);">HONGKONG</div>
<div class="t" style="left:103.80px;top:787.50px;font-size:11.0px;color:#404040;transform:scaleX(0.9139);">WIELKA</div>
<div class="t" style="left:144.24px;top:787.50px;font-size:11.0px;color:#404040;transform:scaleX(0.9528);">BRYTANIA</div>
<div class="t" style="left:138.82px;top:804.50px;font-size:11.0px;color:#404040;transform:scaleX(0.9741);">FINLANDIA</div>
<div class="t" style="left:145.62px;top:820.50px;font-size:11.0px;color:#404040;transform:scaleX(0.9829);">IRLANDIA</div>
<div class="t" style="left:169.65px;top:836.50px;font-size:11.0px;color:#404040;transform:scaleX(0.8232);">CYPR</div>
<div class="t" style="left:408.11px;top:14.86px;font-size:20.6px;color:#3a3a3a;font-weight:bold;transform:scaleX(1.0026);">Miesięczna</div>
<div class="t" style="left:524.33px;top:14.86px;font-size:20.6px;color:#3a3a3a;font-weight:bold;transform:scaleX(1.0677);">kwota</div>
<div class="t" style="left:593.92px;top:14.86px;font-size:20.6px;color:#3a3a3a;font-weight:bold;transform:scaleX(1.0047);">wolna</div>
<div class="t" style="left:660.21px;top:14.86px;font-size:20.6px;color:#3a3a3a;font-weight:bold;transform:scaleX(0.9686);">w</div>
<div class="t" style="left:681.80px;top:14.86px;font-size:20.6px;color:#3a3a3a;font-weight:bold;transform:scaleX(0.9320);">zł</div>
<div class="t" style="left:316.09px;top:860.50px;font-size:11.0px;color:#404040;">1,000</div>
<div class="t" style="left:440.29px;top:860.50px;font-size:11.0px;color:#404040;">2,000</div>
<div class="t" style="left:564.49px;top:860.50px;font-size:11.0px;color:#404040;">3,000</div>
<div class="t" style="left:688.69px;top:860.50px;font-size:11.0px;color:#404040;">4,000</div>
<div class="t" style="left:812.89px;top:860.50px;font-size:11.0px;color:#404040;">5,000</div>
<div class="t" style="left:937.09px;top:860.50px;font-size:11.0px;color:#404040;">6,000</div>
<div class="t" style="left:1061.29px;top:860.50px;font-size:11.0px;color:#404040;">7,000</div>
<div class="t" style="left:981.26px;top:886.83px;font-size:12.6px;color:#5a5a5a;font-weight:bold;transform:scaleX(0.9292);">n..2</div>
<div class="t" style="left:1007.41px;top:886.83px;font-size:12.6px;color:#5a5a5a;transform:scaleX(0.9808);">z</div>
<div class="t" style="left:1042.23px;top:884.71px;font-size:14.4px;color:#6a6a6a;transform:scaleX(1.0362);">wykop.pl</div>
<svg width="30" height="20" viewBox="0 0 30 20" style="left:1015px;top:882px">
<rect x="7.15" y="2.95" width="16.8" height="15" rx="4.2" ry="4.2" fill="none" stroke="#606060" stroke-width="1.9"/>
<g transform="translate(15.3 10.6) rotate(-27)" fill="none" stroke="#606060"><path d="M-4.1 -3V3.4M0 -3V3.4M4.1 -3V3.4" stroke-width="2.7"/><path d="M-5.45 3.1H5.45" stroke-width="2.2"/></g>
</svg>
</body></html>
